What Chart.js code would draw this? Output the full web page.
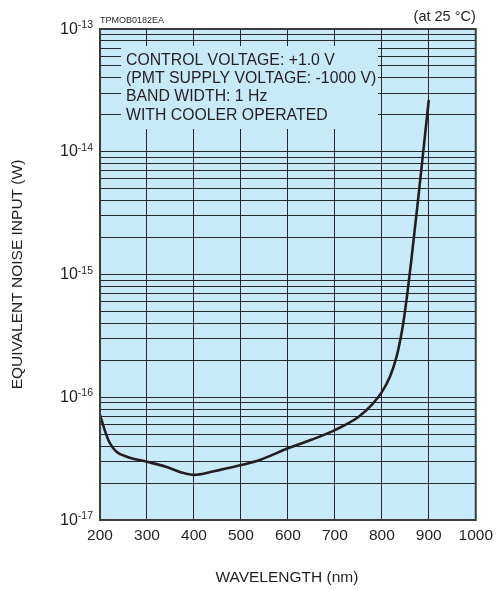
<!DOCTYPE html>
<html>
<head>
<meta charset="utf-8">
<script src="https://cdn.jsdelivr.net/npm/chart.js@4"></script>
<style>
  html, body { margin: 0; padding: 0; background: #fff; }
  #wrap { width: 499px; height: 590px; }
</style>
</head>
<body>
<div id="wrap"><canvas id="chart" width="499" height="590"></canvas></div>
<script>
// Datos
const wavelengths = [200, 210, 220, 235, 260, 300, 340, 375, 400, 440, 500, 540, 600, 650, 700, 750, 780, 800, 817, 831, 842, 849, 856, 863, 877, 900];
const noiseInput = [7.2e-17, 5.4e-17, 4.3e-17, 3.6e-17, 3.25e-17, 2.98e-17, 2.72e-17, 2.43e-17, 2.33e-17, 2.48e-17, 2.8e-17, 3.08e-17, 3.84e-17, 4.5e-17, 5.4e-17, 6.9e-17, 8.8e-17, 1.1e-16, 1.46e-16, 2.11e-16, 3.32e-16, 4.92e-16, 7.9e-16, 1.33e-15, 4.0e-15, 2.64e-14];
const xTicks = [200, 300, 400, 500, 600, 700, 800, 900, 1000];
const yExponents = [-17, -16, -15, -14, -13];
const notes = ['CONTROL VOLTAGE: +1.0 V', '(PMT SUPPLY VOLTAGE: -1000 V)', 'BAND WIDTH: 1 Hz', 'WITH COOLER OPERATED'];
const xTitle = 'WAVELENGTH (nm)';
const yTitle = 'EQUIVALENT NOISE INPUT (W)';
const codeLabel = 'TPMOB0182EA';
const tempLabel = '(at 25 \u00B0C)';

const FONT = '"Liberation Sans", Arial, Helvetica, sans-serif';
const TEXT = '#231f20';
const BG = '#c8e9f8';
const GRID = 'rgba(20,20,20,0.9)';

// Fondo azul del area de la grafica
const plotBackground = {
  id: 'plotBackground',
  beforeDraw(chart) {
    const { ctx, chartArea: a } = chart;
    ctx.save();
    ctx.fillStyle = BG;
    ctx.fillRect(a.left, a.top, a.right - a.left, a.bottom - a.top);
    ctx.restore();
  }
};

// Caja de notas que tapa la reticula
const notesBox = {
  id: 'notesBox',
  beforeDatasetsDraw(chart) {
    const { ctx, chartArea: a } = chart;
    const x0 = a.left + 21, y0 = a.top + 17, x1 = a.left + 278, y1 = a.top + 100;
    ctx.save();
    ctx.fillStyle = BG;
    ctx.fillRect(x0, y0, x1 - x0, y1 - y0);
    ctx.fillStyle = TEXT;
    ctx.font = '15.8px ' + FONT;
    ctx.textBaseline = 'middle';
    ctx.textAlign = 'left';
    notes.forEach((t, i) => ctx.fillText(t, x0 + 5, a.top + 31.5 + i * 18.3));
    ctx.restore();
  }
};

// Etiquetas, marco y titulos
const decorations = {
  id: 'decorations',
  afterDraw(chart) {
    const { ctx, chartArea: a } = chart;
    const y = chart.scales.y;
    ctx.save();
    ctx.strokeStyle = '#3c3c3c';
    ctx.lineWidth = 2;
    ctx.strokeRect(a.left, a.top, a.right - a.left, a.bottom - a.top);

    ctx.fillStyle = TEXT;
    ctx.textBaseline = 'alphabetic';
    yExponents.forEach((e) => {
      const py = y.getPixelForValue(Math.pow(10, e));
      const exp = String(e);
      ctx.font = '10.5px ' + FONT;
      const ew = ctx.measureText(exp).width;
      ctx.textAlign = 'right';
      ctx.fillText(exp, a.left - 7, py - 1);
      ctx.font = '16px ' + FONT;
      ctx.fillText('10', a.left - 7 - ew, py + 4.5);
    });

    ctx.font = '15.5px ' + FONT;
    ctx.textAlign = 'center';
    ctx.textBaseline = 'middle';
    ctx.fillText(xTitle, (a.left + a.right) / 2 - 1, 578);

    ctx.save();
    ctx.translate(18, (a.top + a.bottom) / 2);
    ctx.rotate(-Math.PI / 2);
    ctx.fillText(yTitle, 0, 0);
    ctx.restore();

    ctx.font = '9px ' + FONT;
    ctx.textAlign = 'left';
    ctx.fillText(codeLabel, a.left, 21);
    ctx.font = '14.5px ' + FONT;
    ctx.textAlign = 'right';
    ctx.fillText(tempLabel, a.right, 17);
    ctx.restore();
  }
};

const points = wavelengths.map((w, i) => ({ x: w, y: noiseInput[i] }));

const config = {
  type: 'line',
  data: {
    datasets: [{
      data: points,
      borderColor: TEXT,
      borderWidth: 2.6,
      pointRadius: 0,
      fill: false,
      cubicInterpolationMode: 'monotone'
    }]
  },
  options: {
    responsive: false,
    animation: false,
    layout: { padding: { left: 0, right: 21, top: 29, bottom: 0 } },
    plugins: { legend: { display: false }, tooltip: { enabled: false } },
    scales: {
      x: {
        type: 'linear',
        min: 200,
        max: 1000,
        afterFit: (s) => { s.height = 70; },
        afterBuildTicks: (s) => { s.ticks = xTicks.map((v) => ({ value: v })); },
        grid: { color: GRID, lineWidth: 1, drawTicks: false },
        border: { display: false },
        ticks: {
          padding: 6,
          color: TEXT,
          font: { family: FONT, size: 15.5 },
          maxRotation: 0,
          callback: (v) => String(v)
        }
      },
      y: {
        type: 'logarithmic',
        min: 1e-17,
        max: 1e-13,
        afterFit: (s) => { s.width = 100; },
        afterBuildTicks: (s) => {
          const t = [];
          yExponents.forEach((e) => {
            for (let m = 1; m <= 9; m++) {
              if (e === yExponents[yExponents.length - 1] && m > 1) break;
              t.push({ value: m * Math.pow(10, e) });
            }
          });
          s.ticks = t;
        },
        grid: { color: GRID, lineWidth: 1, drawTicks: false },
        border: { display: false },
        ticks: { display: false }
      }
    }
  },
  plugins: [plotBackground, notesBox, decorations]
};

new Chart(document.getElementById('chart'), config);
</script>
</body>
</html>
